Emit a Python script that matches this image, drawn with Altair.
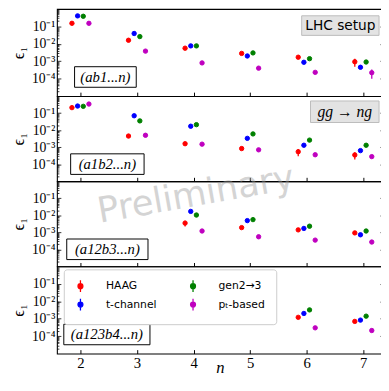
import altair as alt
import pandas as pd

# ---------------- data ----------------
n_values = [2, 3, 4, 5, 6, 7]
series_names = ["HAAG", "t-channel", "gen2→3", "pₜ-based"]
series_colors = ["#ff0000", "#0000ff", "#008000", "#bf00bf"]

# panel 1 : (ab1...n), LHC setup
p1_haag = [0.15, 0.016, 0.0056, 0.0028, 0.0017, 0.00093]
p1_tchannel = [0.40, 0.039, 0.0076, 0.0020, 0.00087, 0.00045]
p1_gen23 = [0.38, 0.026, 0.0076, 0.0030, 0.0014, 0.0009]
p1_ptbased = [0.15, 0.0038, 0.0008, 0.0004, 0.00023, 0.00022]
p1_haag_err = [0, 0, 0, 0, 0.0002, 0.00045]
p1_ptbased_err = [0, 0, 0, 0, 0, 0.00012]

# panel 2 : (a1b2...n), gg -> ng
p2_haag = [0.21, 0.0045, 0.0016, 0.00083, 0.00054, 0.00035]
p2_tchannel = [0.26, 0.07, 0.017, 0.0033, 0.0013, 0.00063]
p2_gen23 = [0.25, 0.035, 0.021, 0.006, 0.0026, 0.0013]
p2_ptbased = [0.34, 0.005, 0.0015, 0.0007, 0.00036, 0.00028]
p2_haag_err = [0, 0, 0, 0, 0.00025, 0.00016]

# panel 3 : (a12b3...n)
p3_haag = [None, None, 0.0035, 0.0019, 0.0014, 0.00093]
p3_tchannel = [None, None, 0.017, 0.0049, 0.0017, 0.00072]
p3_gen23 = [None, None, 0.0104, 0.0056, 0.0023, 0.0012]
p3_ptbased = [None, None, 0.0012, 0.00055, 0.00035, 0.00027]
p3_haag_err = [None, None, 0.0013, 0, 0, 0]

# panel 4 : (a123b4...n)
p4_haag = [None, None, None, None, 0.0012, 0.0007]
p4_tchannel = [None, None, None, None, 0.002, 0.00083]
p4_gen23 = [None, None, None, None, 0.0032, 0.0014]
p4_ptbased = [None, None, None, None, 0.0003, 0.00021]

panel_labels = ["(ab1...n)", "(a1b2...n)", "(a12b3...n)", "(a123b4...n)"]
y_major_ticks = [0.1, 0.01, 0.001, 0.0001]
y_major_labels = ["10⁻¹", "10⁻²", "10⁻³", "10⁻⁴"]
y_minor_mult = [2, 3, 4, 5, 6, 7, 8, 9]
y_decades = [1e-5, 1e-4, 1e-3, 1e-2, 1e-1]
x_title = "n"

# ---------------- style ----------------
x_offsets = {"HAAG": -0.15, "t-channel": -0.05, "gen2→3": 0.05, "pₜ-based": 0.15}
legend_order = ["HAAG", "gen2→3", "t-channel", "pₜ-based"]
color_of = dict(zip(series_names, series_colors))
W = 334
heights = [89, 87, 87, 89]
SERIF = "Liberation Serif"


def make_df(vals, errs):
    rows = []
    for s in series_names:
        e_list = errs.get(s, [0] * len(n_values))
        for n, v, e in zip(n_values, vals[s], e_list):
            if v is None:
                continue
            e = e or 0
            rows.append(dict(n=n, xpos=n + x_offsets[s], series=s, value=v,
                             lo=v - e, hi=v + e, err=e))
    return pd.DataFrame(rows)


panels_data = [
    make_df({"HAAG": p1_haag, "t-channel": p1_tchannel, "gen2→3": p1_gen23, "pₜ-based": p1_ptbased},
            {"HAAG": p1_haag_err, "pₜ-based": p1_ptbased_err}),
    make_df({"HAAG": p2_haag, "t-channel": p2_tchannel, "gen2→3": p2_gen23, "pₜ-based": p2_ptbased},
            {"HAAG": p2_haag_err}),
    make_df({"HAAG": p3_haag, "t-channel": p3_tchannel, "gen2→3": p3_gen23, "pₜ-based": p3_ptbased},
            {"HAAG": p3_haag_err}),
    make_df({"HAAG": p4_haag, "t-channel": p4_tchannel, "gen2→3": p4_gen23, "pₜ-based": p4_ptbased},
            {}),
]

y_ticks = list(y_major_ticks) + [m * d for d in y_decades for m in y_minor_mult]
label_expr = ""
for v, lab in zip(y_major_ticks, y_major_labels):
    label_expr += f"(datum.value > {v*0.95} && datum.value < {v*1.05}) ? '{lab}' : "
label_expr += "''"
major_test = "abs(log(datum.value)/LN10 - round(log(datum.value)/LN10)) < 0.001"
ytick_size = {"condition": {"test": major_test, "value": -4}, "value": -2}
ylabel_size = {"condition": {"test": major_test, "value": 14}, "value": 0}

xscale = alt.Scale(domain=[1.585, 7.365], nice=False, zero=False)
yscale = alt.Scale(type="log", domain=[1e-5, 1], nice=False)
cscale = alt.Scale(domain=legend_order, range=[color_of[s] for s in legend_order])

one = pd.DataFrame({"k": [0]})

legend_symbol = "M0,-1.2L0,1.2M-0.5,0A0.5,0.5,0,1,1,0.5,0A0.5,0.5,0,1,1,-0.5,0Z"


def box(x1, x2, y1, y2, fill="white", stroke="black"):
    return alt.Chart(one).mark_rect(fill=fill, stroke=stroke, strokeWidth=1).encode(
        x=alt.value(x1), x2=alt.value(x2), y=alt.value(y1), y2=alt.value(y2))


def label(text, cx, cy, font=SERIF, size=15, style="italic", baseline="middle", **kw):
    return alt.Chart(one).mark_text(text=text, font=font, fontSize=size, fontStyle=style,
                                    align="center", baseline=baseline, color="black", **kw).encode(
        x=alt.value(cx), y=alt.value(cy))


label_boxes = [(18, 81), (14, 89), (10, 93), (7, 95)]

panels = []
for i, df in enumerate(panels_data):
    last = i == 3
    if last:
        xaxis = alt.Axis(orient="bottom", values=n_values, format="d", tickSize={"expr": "-4"},
                         tickColor="black", domain=False, grid=False, title=None,
                         labelFont=SERIF, labelFontSize=15, labelColor="black", labelPadding=6)
        leg = alt.Legend(orient="none", legendX=7, legendY=3, columns=2, direction="horizontal",
                         title=None, symbolType=legend_symbol, symbolSize=100, symbolStrokeWidth=1.3,
                         labelFont="DejaVu Sans", labelFontSize=11, labelColor="black", labelOffset=20,
                         columnPadding=31, rowPadding=1, padding=11, fillColor="white",
                         strokeColor="#cccccc", cornerRadius=3, labelLimit=0)
    else:
        xaxis = alt.Axis(orient="bottom", values=n_values, labels=False, tickSize={"expr": "-4"},
                         tickColor="black", domain=False, grid=False, title=None)
        leg = None
    yaxis_left = alt.Axis(orient="left", values=y_ticks, labelExpr=label_expr, tickSize=ytick_size,
                          tickWidth=0.8, tickColor="black", domain=False, grid=False, title="ϵ₁",
                          titleFont=SERIF, titleFontSize=17, titleFontWeight="normal",
                          titleColor="black", titlePadding=4, labelFont=SERIF,
                          labelFontSize=ylabel_size, labelColor="black", labelPadding=6,
                          labelOverlap=False, labelFlush=False)
    yaxis_right = alt.Axis(orient="right", values=y_ticks, labels=False, tickSize=ytick_size,
                           tickWidth=0.8, tickColor="black", domain=False, grid=False, title=None)

    layers = []
    edf = df[df["err"] > 0]
    if len(edf):
        layers.append(alt.Chart(edf).mark_rule(strokeWidth=1.3).encode(
            x=alt.X("xpos:Q", scale=xscale, axis=None),
            y=alt.Y("lo:Q", scale=yscale, axis=None),
            y2="hi:Q",
            stroke=alt.Stroke("series:N", scale=cscale, legend=None)))
    layers.append(alt.Chart(df).mark_point(filled=True, size=20, strokeWidth=1, opacity=1).encode(
        x=alt.X("xpos:Q", scale=xscale, axis=xaxis),
        y=alt.Y("value:Q", scale=yscale, axis=yaxis_left),
        fill=alt.Fill("series:N", scale=cscale, legend=leg),
        stroke=alt.Stroke("series:N", scale=cscale, legend=leg)))
    layers.append(alt.Chart(df).mark_point(opacity=0).encode(
        x=alt.X("xpos:Q", scale=xscale, axis=None),
        y=alt.Y("value:Q", scale=yscale, axis=yaxis_right)))
    bx1, bx2 = label_boxes[i]
    layers.append(box(bx1, bx2, 59, 80))
    layers.append(label(panel_labels[i], (bx1 + bx2) / 2, 69.5))
    if i == 0:
        layers.append(box(250, 329, 7, 27, fill="#e3e3e3", stroke="#bbbbbb"))
        layers.append(label("LHC setup", 289.5, 17, font="DejaVu Sans", size=14, style="normal"))
    if i == 1:
        layers.append(box(259, 329, 5, 27, fill="#e3e3e3", stroke="#bbbbbb"))
        layers.append(label("gg → ng", 294, 16, size=16))
    if i == 2:
        layers.append(alt.Chart(one).mark_text(text="Preliminary", font="DejaVu Sans", fontSize=36,
                                               color="#9a9a9a", opacity=0.42, angle=350,
                                               align="center", baseline="middle").encode(
            x=alt.value(142), y=alt.value(14)))
    if last:
        layers.append(label(x_title, 167, heights[i] + 20, size=17, baseline="alphabetic"))
    panel = alt.layer(*layers).resolve_axis(y="independent", x="independent").properties(
        width=W, height=heights[i])
    panels.append(panel)

chart = alt.vconcat(*panels, spacing=0, bounds="flush").resolve_legend(
    fill="independent", stroke="independent").properties(
    padding={"left": 1, "top": -4, "right": -4, "bottom": -3}).configure_view(
    stroke="black", strokeWidth=1.1)

chart.save("out.html", embed_options={"renderer": "svg", "actions": False})
